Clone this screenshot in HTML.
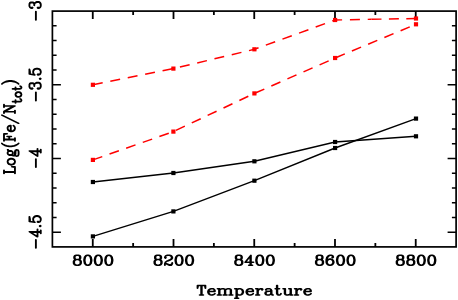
<!DOCTYPE html>
<html><head><meta charset="utf-8"><title>Log(Fe/Ntot) vs Temperature</title>
<style>html,body{margin:0;padding:0;background:#fff}body{width:458px;height:300px;overflow:hidden}svg{display:block}text{font-family:"Liberation Sans",sans-serif;fill:#000;fill-opacity:0}.s{font-family:"Liberation Serif",serif}</style></head><body>
<svg width="458" height="300" viewBox="0 0 458 300">
<rect width="458" height="300" fill="#fff"/>
<rect x="52.4" y="11.1" width="403.70" height="235.80" fill="none" stroke="#000" stroke-width="1.7"/>
<path d="M92.77 246.9v-8M92.77 11.1v8M133.14 246.9v-3.8M133.14 11.1v3.8M173.51 246.9v-8M173.51 11.1v8M213.88 246.9v-3.8M213.88 11.1v3.8M254.25 246.9v-8M254.25 11.1v8M294.62 246.9v-3.8M294.62 11.1v3.8M334.99 246.9v-8M334.99 11.1v8M375.36 246.9v-3.8M375.36 11.1v3.8M415.73 246.9v-8M415.73 11.1v8" stroke="#000" stroke-width="1.8" fill="none"/>
<path d="M52.4 25.84h4.2M456.1 25.84h-4.2M52.4 40.58h4.2M456.1 40.58h-4.2M52.4 55.31h4.2M456.1 55.31h-4.2M52.4 70.05h4.2M456.1 70.05h-4.2M52.4 84.79h8.5M456.1 84.79h-8.5M52.4 99.53h4.2M456.1 99.53h-4.2M52.4 114.26h4.2M456.1 114.26h-4.2M52.4 129.00h4.2M456.1 129.00h-4.2M52.4 143.74h4.2M456.1 143.74h-4.2M52.4 158.47h8.5M456.1 158.47h-8.5M52.4 173.21h4.2M456.1 173.21h-4.2M52.4 187.95h4.2M456.1 187.95h-4.2M52.4 202.69h4.2M456.1 202.69h-4.2M52.4 217.43h4.2M456.1 217.43h-4.2M52.4 232.16h8.5M456.1 232.16h-8.5" stroke="#000" stroke-width="1.5" fill="none"/>
<polyline points="92.9,182.0 173.4,173.0 254.4,161.3 335.1,142.0 416.0,136.3" fill="none" stroke="#000" stroke-width="1.4"/>
<rect x="90.80" y="179.90" width="4.2" height="4.2" fill="#000"/><rect x="171.30" y="170.90" width="4.2" height="4.2" fill="#000"/><rect x="252.30" y="159.20" width="4.2" height="4.2" fill="#000"/><rect x="333.00" y="139.90" width="4.2" height="4.2" fill="#000"/><rect x="413.90" y="134.20" width="4.2" height="4.2" fill="#000"/>
<polyline points="92.9,236.4 173.4,211.4 254.4,180.7 335.1,148.0 416.0,118.6" fill="none" stroke="#000" stroke-width="1.4"/>
<rect x="90.80" y="234.30" width="4.2" height="4.2" fill="#000"/><rect x="171.30" y="209.30" width="4.2" height="4.2" fill="#000"/><rect x="252.30" y="178.60" width="4.2" height="4.2" fill="#000"/><rect x="333.00" y="145.90" width="4.2" height="4.2" fill="#000"/><rect x="413.90" y="116.50" width="4.2" height="4.2" fill="#000"/>
<g transform="scale(1,0.94340)" fill="none" stroke="#f00" stroke-width="1.55"><polyline points="92.9,169.49 173.4,139.50 254.4,99.00 335.1,61.48 416.0,25.76" stroke-dasharray="10 7.74"/><polyline points="92.9,89.89 173.4,72.72 254.4,52.26 335.1,21.20 371.5,20.48" stroke-dasharray="10 7.81"/><polyline points="371.5,20.48 416.0,19.61" stroke-dasharray="10 7.4"/></g>
<rect x="90.80" y="157.80" width="4.2" height="4.2" fill="#f00"/><rect x="171.30" y="129.50" width="4.2" height="4.2" fill="#f00"/><rect x="252.30" y="91.30" width="4.2" height="4.2" fill="#f00"/><rect x="333.00" y="55.90" width="4.2" height="4.2" fill="#f00"/><rect x="413.90" y="22.20" width="4.2" height="4.2" fill="#f00"/>
<rect x="90.80" y="82.70" width="4.2" height="4.2" fill="#f00"/><rect x="171.30" y="66.50" width="4.2" height="4.2" fill="#f00"/><rect x="252.30" y="47.20" width="4.2" height="4.2" fill="#f00"/><rect x="333.00" y="17.90" width="4.2" height="4.2" fill="#f00"/><rect x="413.90" y="16.40" width="4.2" height="4.2" fill="#f00"/>
<path transform="scale(1.25,1)" d="M61.02 255.29L62.7 255.29L63.54 255.76L63.96 256.7L63.96 258.12L63.54 259.06L62.7 259.54L63.96 259.06L64.38 258.12L64.38 256.7L63.96 255.76L62.7 255.29M61.02 255.29L59.76 255.76L59.34 256.7L59.34 258.12L59.76 259.06L61.02 259.54L60.18 259.06L59.76 258.12L59.76 256.7L60.18 255.76L61.02 255.29M61.02 259.54L62.7 259.54L63.54 260.01L63.96 260.48L64.38 261.42L64.38 263.31L63.96 264.26L63.54 264.73L62.7 265.2L63.96 264.73L64.38 264.26L64.8 263.31L64.8 261.42L64.38 260.48L63.96 260.01L62.7 259.54M61.02 259.54L59.76 260.01L59.34 260.48L58.92 261.42L58.92 263.31L59.34 264.26L59.76 264.73L61.02 265.2L60.18 264.73L59.76 264.26L59.34 263.31L59.34 261.42L59.76 260.48L60.18 260.01L61.02 259.54M61.02 265.2L62.7 265.2M69.84 255.29L70.68 255.29L71.52 255.76L71.94 256.23L72.36 257.18L72.78 259.54L72.78 260.95L72.36 263.31L71.94 264.26L71.52 264.73L70.68 265.2L71.94 264.73L72.78 263.31L73.2 260.95L73.2 259.54L72.78 257.18L71.94 255.76L70.68 255.29M69.84 255.29L68.58 255.76L67.74 257.18L67.32 259.54L67.32 260.95L67.74 263.31L68.58 264.73L69.84 265.2L69 264.73L68.58 264.26L68.16 263.31L67.74 260.95L67.74 259.54L68.16 257.18L68.58 256.23L69 255.76L69.84 255.29M69.84 265.2L70.68 265.2M78.24 255.29L79.08 255.29L79.92 255.76L80.34 256.23L80.76 257.18L81.18 259.54L81.18 260.95L80.76 263.31L80.34 264.26L79.92 264.73L79.08 265.2L80.34 264.73L81.18 263.31L81.6 260.95L81.6 259.54L81.18 257.18L80.34 255.76L79.08 255.29M78.24 255.29L76.98 255.76L76.14 257.18L75.72 259.54L75.72 260.95L76.14 263.31L76.98 264.73L78.24 265.2L77.4 264.73L76.98 264.26L76.56 263.31L76.14 260.95L76.14 259.54L76.56 257.18L76.98 256.23L77.4 255.76L78.24 255.29M78.24 265.2L79.08 265.2M86.64 255.29L87.48 255.29L88.32 255.76L88.74 256.23L89.16 257.18L89.58 259.54L89.58 260.95L89.16 263.31L88.74 264.26L88.32 264.73L87.48 265.2L88.74 264.73L89.58 263.31L90 260.95L90 259.54L89.58 257.18L88.74 255.76L87.48 255.29M86.64 255.29L85.38 255.76L84.54 257.18L84.12 259.54L84.12 260.95L84.54 263.31L85.38 264.73L86.64 265.2L85.8 264.73L85.38 264.26L84.96 263.31L84.54 260.95L84.54 259.54L84.96 257.18L85.38 256.23L85.8 255.76L86.64 255.29M86.64 265.2L87.48 265.2M125.61 255.29L127.29 255.29L128.13 255.76L128.55 256.7L128.55 258.12L128.13 259.06L127.29 259.54L128.55 259.06L128.97 258.12L128.97 256.7L128.55 255.76L127.29 255.29M125.61 255.29L124.35 255.76L123.93 256.7L123.93 258.12L124.35 259.06L125.61 259.54L124.77 259.06L124.35 258.12L124.35 256.7L124.77 255.76L125.61 255.29M125.61 259.54L127.29 259.54L128.13 260.01L128.55 260.48L128.97 261.42L128.97 263.31L128.55 264.26L128.13 264.73L127.29 265.2L128.55 264.73L128.97 264.26L129.39 263.31L129.39 261.42L128.97 260.48L128.55 260.01L127.29 259.54M125.61 259.54L124.35 260.01L123.93 260.48L123.51 261.42L123.51 263.31L123.93 264.26L124.35 264.73L125.61 265.2L124.77 264.73L124.35 264.26L123.93 263.31L123.93 261.42L124.35 260.48L124.77 260.01L125.61 259.54M125.61 265.2L127.29 265.2M135.69 255.29L134.01 255.29L132.75 255.76L132.33 256.23L131.91 257.18L131.91 257.65L132.33 258.12L132.75 257.65L132.33 257.18M135.69 255.29L136.53 255.76L136.95 256.23L137.37 257.18L137.37 258.12L136.95 259.06L135.69 260.01L134.01 260.95L136.11 260.01L137.37 259.06L137.79 258.12L137.79 257.18L137.37 256.23L136.95 255.76L135.69 255.29M134.01 260.95L133.17 261.42L132.33 262.37L131.91 263.78L131.91 264.26L132.33 263.78L133.17 263.78L135.27 264.73L136.53 264.73L137.37 264.26L137.79 263.78L137.79 262.84M137.79 263.78L137.37 264.73L136.95 265.2L135.27 265.2L133.17 263.78M131.91 264.26L131.91 265.2M142.83 255.29L143.67 255.29L144.51 255.76L144.93 256.23L145.35 257.18L145.77 259.54L145.77 260.95L145.35 263.31L144.93 264.26L144.51 264.73L143.67 265.2L144.93 264.73L145.77 263.31L146.19 260.95L146.19 259.54L145.77 257.18L144.93 255.76L143.67 255.29M142.83 255.29L141.57 255.76L140.73 257.18L140.31 259.54L140.31 260.95L140.73 263.31L141.57 264.73L142.83 265.2L141.99 264.73L141.57 264.26L141.15 263.31L140.73 260.95L140.73 259.54L141.15 257.18L141.57 256.23L141.99 255.76L142.83 255.29M142.83 265.2L143.67 265.2M151.23 255.29L152.07 255.29L152.91 255.76L153.33 256.23L153.75 257.18L154.17 259.54L154.17 260.95L153.75 263.31L153.33 264.26L152.91 264.73L152.07 265.2L153.33 264.73L154.17 263.31L154.59 260.95L154.59 259.54L154.17 257.18L153.33 255.76L152.07 255.29M151.23 255.29L149.97 255.76L149.13 257.18L148.71 259.54L148.71 260.95L149.13 263.31L149.97 264.73L151.23 265.2L150.39 264.73L149.97 264.26L149.55 263.31L149.13 260.95L149.13 259.54L149.55 257.18L149.97 256.23L150.39 255.76L151.23 255.29M151.23 265.2L152.07 265.2M190.2 255.29L191.88 255.29L192.72 255.76L193.14 256.7L193.14 258.12L192.72 259.06L191.88 259.54L193.14 259.06L193.56 258.12L193.56 256.7L193.14 255.76L191.88 255.29M190.2 255.29L188.94 255.76L188.52 256.7L188.52 258.12L188.94 259.06L190.2 259.54L189.36 259.06L188.94 258.12L188.94 256.7L189.36 255.76L190.2 255.29M190.2 259.54L191.88 259.54L192.72 260.01L193.14 260.48L193.56 261.42L193.56 263.31L193.14 264.26L192.72 264.73L191.88 265.2L193.14 264.73L193.56 264.26L193.98 263.31L193.98 261.42L193.56 260.48L193.14 260.01L191.88 259.54M190.2 259.54L188.94 260.01L188.52 260.48L188.1 261.42L188.1 263.31L188.52 264.26L188.94 264.73L190.2 265.2L189.36 264.73L188.94 264.26L188.52 263.31L188.52 261.42L188.94 260.48L189.36 260.01L190.2 259.54M190.2 265.2L191.88 265.2M200.28 256.23L200.28 262.37L196.08 262.37L200.7 255.29L200.7 262.37L200.28 262.37L200.28 265.2L199.02 265.2M202.8 262.37L200.7 262.37L200.7 265.2L200.28 265.2M200.7 265.2L201.96 265.2M207.42 255.29L208.26 255.29L209.1 255.76L209.52 256.23L209.94 257.18L210.36 259.54L210.36 260.95L209.94 263.31L209.52 264.26L209.1 264.73L208.26 265.2L209.52 264.73L210.36 263.31L210.78 260.95L210.78 259.54L210.36 257.18L209.52 255.76L208.26 255.29M207.42 255.29L206.16 255.76L205.32 257.18L204.9 259.54L204.9 260.95L205.32 263.31L206.16 264.73L207.42 265.2L206.58 264.73L206.16 264.26L205.74 263.31L205.32 260.95L205.32 259.54L205.74 257.18L206.16 256.23L206.58 255.76L207.42 255.29M207.42 265.2L208.26 265.2M215.82 255.29L216.66 255.29L217.5 255.76L217.92 256.23L218.34 257.18L218.76 259.54L218.76 260.95L218.34 263.31L217.92 264.26L217.5 264.73L216.66 265.2L217.92 264.73L218.76 263.31L219.18 260.95L219.18 259.54L218.76 257.18L217.92 255.76L216.66 255.29M215.82 255.29L214.56 255.76L213.72 257.18L213.3 259.54L213.3 260.95L213.72 263.31L214.56 264.73L215.82 265.2L214.98 264.73L214.56 264.26L214.14 263.31L213.72 260.95L213.72 259.54L214.14 257.18L214.56 256.23L214.98 255.76L215.82 255.29M215.82 265.2L216.66 265.2M254.79 255.29L256.47 255.29L257.31 255.76L257.73 256.7L257.73 258.12L257.31 259.06L256.47 259.54L257.73 259.06L258.15 258.12L258.15 256.7L257.73 255.76L256.47 255.29M254.79 255.29L253.53 255.76L253.11 256.7L253.11 258.12L253.53 259.06L254.79 259.54L253.95 259.06L253.53 258.12L253.53 256.7L253.95 255.76L254.79 255.29M254.79 259.54L256.47 259.54L257.31 260.01L257.73 260.48L258.15 261.42L258.15 263.31L257.73 264.26L257.31 264.73L256.47 265.2L257.73 264.73L258.15 264.26L258.57 263.31L258.57 261.42L258.15 260.48L257.73 260.01L256.47 259.54M254.79 259.54L253.53 260.01L253.11 260.48L252.69 261.42L252.69 263.31L253.11 264.26L253.53 264.73L254.79 265.2L253.95 264.73L253.53 264.26L253.11 263.31L253.11 261.42L253.53 260.48L253.95 260.01L254.79 259.54M254.79 265.2L256.47 265.2M264.03 255.29L265.29 255.29L266.13 255.76L266.55 256.7L266.55 257.18L266.13 257.65L265.71 257.18L266.13 256.7M264.03 255.29L262.77 255.76L261.93 256.7L261.51 257.65L261.09 259.54L261.09 262.37L261.51 263.78L262.35 264.73L263.61 265.2L262.77 264.73L261.93 263.78L261.51 262.37L261.51 261.9L261.93 260.48L262.77 259.54L264.03 259.06L264.45 259.06L265.29 259.54L266.13 260.48L266.55 261.9L266.55 262.37L266.13 263.78L265.29 264.73L264.45 265.2L265.71 264.73L266.55 263.78L266.97 262.37L266.97 261.9L266.55 260.48L265.71 259.54L264.45 259.06M264.03 255.29L263.19 255.76L262.35 256.7L261.93 257.65L261.51 259.54L261.51 261.9M263.61 265.2L264.45 265.2M272.01 255.29L272.85 255.29L273.69 255.76L274.11 256.23L274.53 257.18L274.95 259.54L274.95 260.95L274.53 263.31L274.11 264.26L273.69 264.73L272.85 265.2L274.11 264.73L274.95 263.31L275.37 260.95L275.37 259.54L274.95 257.18L274.11 255.76L272.85 255.29M272.01 255.29L270.75 255.76L269.91 257.18L269.49 259.54L269.49 260.95L269.91 263.31L270.75 264.73L272.01 265.2L271.17 264.73L270.75 264.26L270.33 263.31L269.91 260.95L269.91 259.54L270.33 257.18L270.75 256.23L271.17 255.76L272.01 255.29M272.01 265.2L272.85 265.2M280.41 255.29L281.25 255.29L282.09 255.76L282.51 256.23L282.93 257.18L283.35 259.54L283.35 260.95L282.93 263.31L282.51 264.26L282.09 264.73L281.25 265.2L282.51 264.73L283.35 263.31L283.77 260.95L283.77 259.54L283.35 257.18L282.51 255.76L281.25 255.29M280.41 255.29L279.15 255.76L278.31 257.18L277.89 259.54L277.89 260.95L278.31 263.31L279.15 264.73L280.41 265.2L279.57 264.73L279.15 264.26L278.73 263.31L278.31 260.95L278.31 259.54L278.73 257.18L279.15 256.23L279.57 255.76L280.41 255.29M280.41 265.2L281.25 265.2M319.38 255.29L321.06 255.29L321.9 255.76L322.32 256.7L322.32 258.12L321.9 259.06L321.06 259.54L322.32 259.06L322.74 258.12L322.74 256.7L322.32 255.76L321.06 255.29M319.38 255.29L318.12 255.76L317.7 256.7L317.7 258.12L318.12 259.06L319.38 259.54L318.54 259.06L318.12 258.12L318.12 256.7L318.54 255.76L319.38 255.29M319.38 259.54L321.06 259.54L321.9 260.01L322.32 260.48L322.74 261.42L322.74 263.31L322.32 264.26L321.9 264.73L321.06 265.2L322.32 264.73L322.74 264.26L323.16 263.31L323.16 261.42L322.74 260.48L322.32 260.01L321.06 259.54M319.38 259.54L318.12 260.01L317.7 260.48L317.28 261.42L317.28 263.31L317.7 264.26L318.12 264.73L319.38 265.2L318.54 264.73L318.12 264.26L317.7 263.31L317.7 261.42L318.12 260.48L318.54 260.01L319.38 259.54M319.38 265.2L321.06 265.2M327.78 255.29L329.46 255.29L330.3 255.76L330.72 256.7L330.72 258.12L330.3 259.06L329.46 259.54L330.72 259.06L331.14 258.12L331.14 256.7L330.72 255.76L329.46 255.29M327.78 255.29L326.52 255.76L326.1 256.7L326.1 258.12L326.52 259.06L327.78 259.54L326.94 259.06L326.52 258.12L326.52 256.7L326.94 255.76L327.78 255.29M327.78 259.54L329.46 259.54L330.3 260.01L330.72 260.48L331.14 261.42L331.14 263.31L330.72 264.26L330.3 264.73L329.46 265.2L330.72 264.73L331.14 264.26L331.56 263.31L331.56 261.42L331.14 260.48L330.72 260.01L329.46 259.54M327.78 259.54L326.52 260.01L326.1 260.48L325.68 261.42L325.68 263.31L326.1 264.26L326.52 264.73L327.78 265.2L326.94 264.73L326.52 264.26L326.1 263.31L326.1 261.42L326.52 260.48L326.94 260.01L327.78 259.54M327.78 265.2L329.46 265.2M336.6 255.29L337.44 255.29L338.28 255.76L338.7 256.23L339.12 257.18L339.54 259.54L339.54 260.95L339.12 263.31L338.7 264.26L338.28 264.73L337.44 265.2L338.7 264.73L339.54 263.31L339.96 260.95L339.96 259.54L339.54 257.18L338.7 255.76L337.44 255.29M336.6 255.29L335.34 255.76L334.5 257.18L334.08 259.54L334.08 260.95L334.5 263.31L335.34 264.73L336.6 265.2L335.76 264.73L335.34 264.26L334.92 263.31L334.5 260.95L334.5 259.54L334.92 257.18L335.34 256.23L335.76 255.76L336.6 255.29M336.6 265.2L337.44 265.2M345 255.29L345.84 255.29L346.68 255.76L347.1 256.23L347.52 257.18L347.94 259.54L347.94 260.95L347.52 263.31L347.1 264.26L346.68 264.73L345.84 265.2L347.1 264.73L347.94 263.31L348.36 260.95L348.36 259.54L347.94 257.18L347.1 255.76L345.84 255.29M345 255.29L343.74 255.76L342.9 257.18L342.48 259.54L342.48 260.95L342.9 263.31L343.74 264.73L345 265.2L344.16 264.73L343.74 264.26L343.32 263.31L342.9 260.95L342.9 259.54L343.32 257.18L343.74 256.23L344.16 255.76L345 255.29M345 265.2L345.84 265.2M28.71 19.99L28.71 11.57M23.53 4.08L23.53 5.95L23.96 7.36L24.39 7.82L25.26 8.29L25.69 8.29L26.12 7.82L25.69 7.36L25.26 7.82M23.53 4.08L23.96 3.14L24.82 2.68L26.12 2.68L26.98 3.14L27.42 4.08L26.98 2.68L26.12 2.21L24.82 2.21L23.96 2.68L23.53 4.08M27.42 5.48L27.42 4.08L27.85 3.14L28.71 2.21L29.58 1.74L30.87 1.74L31.74 2.21L32.17 2.68L32.6 4.08L32.17 3.14L31.74 2.68L30.87 2.21L29.58 2.21L28.28 2.68M30.87 7.82L30.44 7.36L30.01 7.82L30.44 8.29L30.87 8.29L31.74 7.82L32.17 7.36L32.6 5.95L32.6 4.08M28.71 100.7L28.71 92.28M23.53 84.79L23.53 86.66L23.96 88.06L24.39 88.53L25.26 89L25.69 89L26.12 88.53L25.69 88.06L25.26 88.53M23.53 84.79L23.96 83.85L24.82 83.38L26.12 83.38L26.98 83.85L27.42 84.79L26.98 83.38L26.12 82.92L24.82 82.92L23.96 83.38L23.53 84.79M27.42 86.19L27.42 84.79L27.85 83.85L28.71 82.92L29.58 82.45L30.87 82.45L31.74 82.92L32.17 83.38L32.6 84.79L32.17 83.85L31.74 83.38L30.87 82.92L29.58 82.92L28.28 83.38M30.87 88.53L30.44 88.06L30.01 88.53L30.44 89L30.87 89L31.74 88.53L32.17 88.06L32.6 86.66L32.6 84.79M31.74 78.7L32.17 79.17L32.6 78.7L32.17 78.24L31.74 78.7M23.96 74.02L23.96 71.68L23.53 69.34L23.53 74.02L27.85 74.96L26.98 74.02L26.55 72.62L26.55 71.22L26.98 70.28L27.85 69.34L29.14 68.88L30.01 68.88L31.3 69.34L32.17 70.28L32.6 71.22L32.17 69.81L31.3 68.88L30.01 68.41L29.14 68.41L27.85 68.88L26.98 69.81L26.55 71.22M30.87 74.49L30.44 74.02L30.01 74.49L30.44 74.96L30.87 74.96L31.74 74.49L32.17 74.02L32.6 72.62L32.6 71.22M28.71 167.37L28.71 158.94M24.39 151.45L30.01 151.45L30.01 156.13L23.53 150.99L30.01 150.99L30.01 151.45L32.6 151.45L32.6 152.86M30.01 148.65L30.01 150.99L32.6 150.99L32.6 151.45M32.6 150.99L32.6 149.58M28.71 248.07L28.71 239.65M24.39 232.16L30.01 232.16L30.01 236.84L23.53 231.69L30.01 231.69L30.01 232.16L32.6 232.16L32.6 233.57M30.01 229.35L30.01 231.69L32.6 231.69L32.6 232.16M32.6 231.69L32.6 230.29M31.74 226.08L32.17 226.55L32.6 226.08L32.17 225.61L31.74 226.08M23.96 221.4L23.96 219.06L23.53 216.72L23.53 221.4L27.85 222.33L26.98 221.4L26.55 219.99L26.55 218.59L26.98 217.65L27.85 216.72L29.14 216.25L30.01 216.25L31.3 216.72L32.17 217.65L32.6 218.59L32.17 217.19L31.3 216.25L30.01 215.78L29.14 215.78L27.85 216.25L26.98 217.19L26.55 218.59M30.87 221.87L30.44 221.4L30.01 221.87L30.44 222.33L30.87 222.33L31.74 221.87L32.17 221.4L32.6 219.99L32.6 218.59M158.45 285.55L158.03 285.55L158.03 288.25L158.45 285.55L164.33 285.55L164.33 288.25L163.91 285.55M160.97 285.55L160.97 295L159.71 295M161.39 285.55L161.39 295L160.97 295M161.39 295L162.65 295M168.95 288.7L170.21 288.7L171.05 289.15L171.47 289.6L171.89 290.5L171.89 291.4L171.47 291.4L171.47 290.05L171.05 289.15M168.95 288.7L167.69 289.15L166.85 290.05L166.43 291.4L166.43 292.3L166.85 293.65L167.69 294.55L168.95 295L168.11 294.55L167.27 293.65L166.85 292.3L166.85 291.4L167.27 290.05L168.11 289.15L168.95 288.7M166.85 291.4L171.47 291.4M171.89 293.65L171.05 294.55L169.79 295L168.95 295M173.99 288.7L175.67 288.7L175.67 290.05L176.51 289.15L177.77 288.7L178.61 288.7L179.45 289.15L179.87 290.05L179.87 295L178.61 295M175.25 288.7L175.25 295L173.99 295M178.61 288.7L179.87 289.15L180.29 290.05L181.13 289.15L182.39 288.7L183.23 288.7L184.07 289.15L184.49 290.05L184.49 295L183.23 295M183.23 288.7L184.49 289.15L184.91 290.05L184.91 295L184.49 295M180.29 290.05L180.29 295L179.87 295M175.67 290.05L175.67 295L175.25 295M175.67 295L176.93 295M180.29 295L181.55 295M184.91 295L186.17 295M187.85 288.7L189.53 288.7L189.53 290.05L190.37 289.15L191.21 288.7L192.05 288.7L192.89 289.15L193.73 290.05L194.15 291.4L194.15 292.3L193.73 293.65L192.89 294.55L192.05 295L193.31 294.55L194.15 293.65L194.57 292.3L194.57 291.4L194.15 290.05L193.31 289.15L192.05 288.7M189.11 288.7L189.11 298.15L187.85 298.15M189.53 290.05L189.53 298.15L189.11 298.15M189.53 293.65L190.37 294.55L191.21 295L192.05 295M189.53 298.15L190.79 298.15M199.61 288.7L200.87 288.7L201.71 289.15L202.13 289.6L202.55 290.5L202.55 291.4L202.13 291.4L202.13 290.05L201.71 289.15M199.61 288.7L198.35 289.15L197.51 290.05L197.09 291.4L197.09 292.3L197.51 293.65L198.35 294.55L199.61 295L198.77 294.55L197.93 293.65L197.51 292.3L197.51 291.4L197.93 290.05L198.77 289.15L199.61 288.7M197.51 291.4L202.13 291.4M202.55 293.65L201.71 294.55L200.45 295L199.61 295M204.65 288.7L206.33 288.7L206.33 291.4L206.75 290.05L207.59 289.15L208.43 288.7L209.69 288.7L210.11 289.15L210.11 289.6L209.69 290.05L209.27 289.6L209.69 289.15M205.91 288.7L205.91 295L204.65 295M206.33 291.4L206.33 295L205.91 295M206.33 295L207.59 295M216.83 289.6L216.41 289.15L215.57 288.7L213.89 288.7L213.05 289.15L212.63 289.6L212.63 290.05L213.05 290.05L213.05 289.6M216.83 289.6L216.83 290.5L216.41 290.95L213.89 291.4L212.63 291.85L212.21 292.75L212.21 293.65L212.63 294.55L213.89 295L213.05 294.55L212.63 293.65L212.63 292.75L213.05 291.85L213.89 291.4M216.83 289.6L217.25 290.5L217.25 293.65L217.67 294.55L218.09 295L217.25 294.55L216.83 293.65L216.83 290.5M216.83 293.65L215.99 294.55L215.15 295L213.89 295M218.09 295L218.51 295M221.45 285.55L221.45 288.7L220.19 288.7M221.87 285.55L221.87 288.7L221.45 288.7L221.45 293.2L221.87 294.55L222.71 295L222.29 294.55L221.87 293.2L221.87 288.7L223.55 288.7M224.81 293.65L224.39 294.55L223.55 295L222.71 295M226.49 288.7L228.17 288.7L228.17 293.65L228.59 294.55L229.43 295L228.17 294.55L227.75 293.65L227.75 288.7M231.11 288.7L232.79 288.7L232.79 295L232.37 295L232.37 288.7M232.37 293.65L231.53 294.55L230.27 295L229.43 295M232.79 295L234.05 295M235.73 288.7L237.41 288.7L237.41 291.4L237.83 290.05L238.67 289.15L239.51 288.7L240.77 288.7L241.19 289.15L241.19 289.6L240.77 290.05L240.35 289.6L240.77 289.15M236.99 288.7L236.99 295L235.73 295M237.41 291.4L237.41 295L236.99 295M237.41 295L238.67 295M245.81 288.7L247.07 288.7L247.91 289.15L248.33 289.6L248.75 290.5L248.75 291.4L248.33 291.4L248.33 290.05L247.91 289.15M245.81 288.7L244.55 289.15L243.71 290.05L243.29 291.4L243.29 292.3L243.71 293.65L244.55 294.55L245.81 295L244.97 294.55L244.13 293.65L243.71 292.3L243.71 291.4L244.13 290.05L244.97 289.15L245.81 288.7M243.71 291.4L248.33 291.4M248.75 293.65L247.91 294.55L246.65 295L245.81 295M3.19 173.56L3.19 170.36M3.19 172.19L11.96 172.19L11.96 173.56M3.19 171.73L11.96 171.73L11.96 172.19M11.96 167.16L9.45 166.71L11.96 166.71L11.96 171.73M6.11 162.14L6.11 161.22L6.53 160.31L7.37 159.4L8.62 158.94L9.45 158.94L10.71 159.4L11.54 160.31L11.96 161.22L11.54 159.85L10.71 158.94L9.45 158.48L8.62 158.48L7.37 158.94L6.53 159.85L6.11 161.22M6.11 162.14L6.53 163.51L7.37 164.42L8.62 164.88L9.45 164.88L10.71 164.42L11.54 163.51L11.96 162.14L11.54 163.05L10.71 163.97L9.45 164.42L8.62 164.42L7.37 163.97L6.53 163.05L6.11 162.14M11.96 162.14L11.96 161.22M6.53 154.37L6.11 153.45L6.11 152.54L6.53 151.63L6.95 151.17L6.53 150.71L6.11 149.8L6.53 149.8L6.53 150.71M6.53 154.37L6.95 154.83L7.78 155.28L8.62 155.28L9.45 154.83L9.87 155.28L10.71 155.74L11.12 155.74L11.54 155.28L11.96 153.91L11.96 151.63L12.38 150.26L13.21 149.8L12.8 150.26L12.38 151.63L12.38 153.91L11.96 155.28L11.12 155.74M6.53 154.37L7.37 154.83L9.04 154.83L9.87 154.37L9.45 154.83M6.53 151.63L7.37 151.17L9.04 151.17L9.87 151.63L9.45 151.17L8.62 150.71L7.78 150.71L6.95 151.17M9.87 154.37L10.29 153.45L10.29 152.54L9.87 151.63M11.96 154.37L12.38 155.74L13.21 156.2L13.63 156.2L14.47 155.74L14.88 154.37L14.88 151.63L14.47 150.26L13.63 149.8L13.21 149.8M1.52 143.4L2.36 144.31L4.03 145.23L5.28 145.69L7.37 146.14L9.04 146.14L11.12 145.69L12.38 145.23L14.05 144.31L12.8 145.23L11.12 146.14L9.04 146.6L7.37 146.6L5.28 146.14L3.61 145.23L2.36 144.31M14.05 144.31L14.88 143.4M3.19 141.12L3.19 133.8L5.7 133.8L3.19 134.26M3.19 139.74L11.96 139.74L11.96 141.12M3.19 139.29L7.37 139.29L7.37 136.55L5.7 136.55M7.37 139.29L11.96 139.29L11.96 139.74M7.37 136.55L9.04 136.55M11.96 139.29L11.96 137.92M6.11 128.78L6.11 127.41L6.53 126.49L6.95 126.03L7.78 125.58L8.62 125.58L8.62 126.03L7.37 126.03L6.53 126.49M6.11 128.78L6.53 130.15L7.37 131.06L8.62 131.52L9.45 131.52L10.71 131.06L11.54 130.15L11.96 128.78L11.54 129.69L10.71 130.6L9.45 131.06L8.62 131.06L7.37 130.6L6.53 129.69L6.11 128.78M8.62 131.06L8.62 126.03M10.71 125.58L11.54 126.49L11.96 127.86L11.96 128.78M1.52 115.07L14.88 123.29M3.19 113.24L3.19 111.41L11.12 105.93L3.19 105.93L3.19 107.3M3.19 111.87L11.96 111.87L11.96 113.24M11.12 105.93L11.96 105.93L4.03 111.41M3.19 105.93L3.19 104.56M11.96 111.87L11.96 110.5M10.08 101.81L12.42 101.81L12.42 102.91M10.08 101.45L12.42 101.45L12.42 101.81L15.76 101.81L16.76 101.45L17.1 100.72L16.76 101.08L15.76 101.45L12.42 101.45L12.42 99.99M16.09 98.89L16.76 99.25L17.1 99.99L17.1 100.72M12.42 94.87L12.42 94.14L12.75 93.4L13.42 92.67L14.42 92.31L15.09 92.31L16.09 92.67L16.76 93.4L17.1 94.14L16.76 93.04L16.09 92.31L15.09 91.94L14.42 91.94L13.42 92.31L12.75 93.04L12.42 94.14M12.42 94.87L12.75 95.96L13.42 96.7L14.42 97.06L15.09 97.06L16.09 96.7L16.76 95.96L17.1 94.87L16.76 95.6L16.09 96.33L15.09 96.7L14.42 96.7L13.42 96.33L12.75 95.6L12.42 94.87M17.1 94.87L17.1 94.14M10.08 89.02L12.42 89.02L12.42 90.11M10.08 88.65L12.42 88.65L12.42 89.02L15.76 89.02L16.76 88.65L17.1 87.92L16.76 88.29L15.76 88.65L12.42 88.65L12.42 87.19M16.09 86.09L16.76 86.46L17.1 87.19L17.1 87.92M1.52 83.99L2.36 83.08L4.03 82.16L5.28 81.71L7.37 81.25L9.04 81.25L11.12 81.71L12.38 82.16L14.05 83.08L12.8 82.16L11.12 81.25L9.04 80.79L7.37 80.79L5.28 81.25L3.61 82.16L2.36 83.08M14.05 83.08L14.88 83.99" fill="none" stroke="#000" stroke-width="1.5" stroke-linecap="round" stroke-linejoin="round"/>
<text x="92.8" y="265" font-size="14" text-anchor="middle">8000</text>
<text x="173.5" y="265" font-size="14" text-anchor="middle">8200</text>
<text x="254.3" y="265" font-size="14" text-anchor="middle">8400</text>
<text x="335.0" y="265" font-size="14" text-anchor="middle">8600</text>
<text x="415.7" y="265" font-size="14" text-anchor="middle">8800</text>
<text transform="translate(41,11.1) rotate(-90)" font-size="14" text-anchor="middle">−3</text>
<text transform="translate(41,84.8) rotate(-90)" font-size="14" text-anchor="middle">−3.5</text>
<text transform="translate(41,158.5) rotate(-90)" font-size="14" text-anchor="middle">−4</text>
<text transform="translate(41,232.2) rotate(-90)" font-size="14" text-anchor="middle">−4.5</text>
<text class="s" x="255" y="294.5" font-size="16" font-weight="bold" text-anchor="middle">Temperature</text>
<text class="s" transform="translate(15,127) rotate(-90)" font-size="16" font-weight="bold" text-anchor="middle">Log(Fe/N<tspan font-size="10" dy="3">tot</tspan><tspan dy="-3">)</tspan></text>
</svg></body></html>
